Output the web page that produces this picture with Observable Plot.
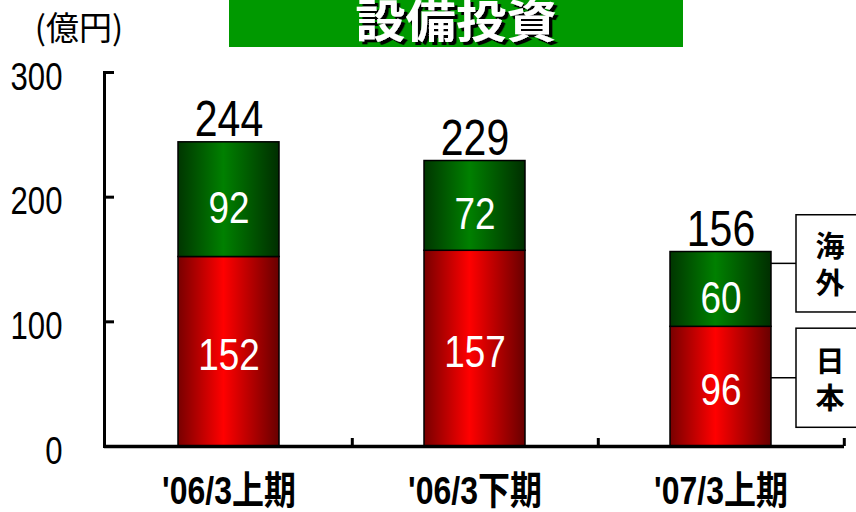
<!DOCTYPE html>
<html>
<head>
<meta charset="utf-8">
<script src="https://cdn.jsdelivr.net/npm/d3@7"></script>
<script src="https://cdn.jsdelivr.net/npm/@observablehq/plot@0.6"></script>
<style>
  html, body { margin: 0; padding: 0; background: #fff; }
  svg { display: block; }
</style>
</head>
<body>
<div id="chart"></div>
<script>
const categories = ["'06/3上期", "'06/3下期", "'07/3上期"];
const domestic = [152, 157, 96];
const overseas = [92, 72, 60];
const totals = [244, 229, 156];
const yTicks = [0, 100, 200, 300];
const seriesNames = ["海外", "日本"];
const titleText = "設備投資";
const unitText = "(億円)";

const SANS = "'Liberation Sans', Arial, 'Noto Sans CJK JP', sans-serif";
const CJK = "'Noto Sans CJK JP', sans-serif";
const CONDENSE = 0.82;

const domRows = categories.map((c, i) => ({cat: c, y1: 0, y2: domestic[i], v: domestic[i]}));
const ovsRows = categories.map((c, i) => ({cat: c, y1: domestic[i], y2: domestic[i] + overseas[i], v: overseas[i]}));
const totRows = categories.map((c, i) => ({cat: c, v: totals[i]}));

function defsMark() {
  const defs = d3.create("svg:defs");
  const mk = (id, edgeL, mid, edgeR) => {
    const g = defs.append("linearGradient").attr("id", id).attr("x1", "0").attr("x2", "1").attr("y1", "0").attr("y2", "0");
    g.append("stop").attr("offset", "0").attr("stop-color", edgeL);
    g.append("stop").attr("offset", "0.45").attr("stop-color", mid);
    g.append("stop").attr("offset", "1").attr("stop-color", edgeR);
  };
  mk("gRed", "#780000", "#ff0000", "#680000");
  mk("gGreen", "#003600", "#008000", "#002e00");
  const f = defs.append("filter").attr("id", "titleShadow").attr("x", "-10%").attr("y", "-30%").attr("width", "130%").attr("height", "160%");
  f.append("feDropShadow").attr("dx", 3).attr("dy", 3).attr("stdDeviation", 0)
    .attr("flood-color", "#000").attr("flood-opacity", 1);
  return defs.node();
}

function headerMark() {
  const g = d3.create("svg:g");
  g.append("rect").attr("x", 229).attr("y", 0).attr("width", 454).attr("height", 47).attr("fill", "#009900");
  g.append("text")
    .attr("transform", `translate(456,38) scale(1.12,1)`)
    .attr("text-anchor", "middle").attr("data-keep", "1")
    .attr("font-family", CJK).attr("font-weight", "bold").attr("font-size", 45)
    .attr("fill", "#fff").attr("filter", "url(#titleShadow)").text(titleText);
  g.append("text").attr("x", 79).attr("y", 40).attr("text-anchor", "middle").attr("data-keep", "1")
    .attr("font-family", CJK).attr("font-size", 33)
    .attr("fill", "#000").text(unitText);
  return g.node();
}

function legendMark(index, scales) {
  const g = d3.create("svg:g");
  const x = scales.x, y = scales.y;
  const last = categories[categories.length - 1];
  const barRight = x(last) + x.bandwidth();
  const boxLeft = barRight + 25;
  const boxes = [
    {name: seriesNames[0], top: 185.5, bottom: 107.5},
    {name: seriesNames[1], top: 94.5, bottom: 15}
  ];
  for (const b of boxes) {
    const yt = y(b.top), yb = y(b.bottom), ym = (yt + yb) / 2;
    g.append("line").attr("x1", barRight).attr("x2", boxLeft).attr("y1", ym).attr("y2", ym)
      .attr("stroke", "#000").attr("stroke-width", 1.5);
    g.append("rect").attr("x", boxLeft).attr("y", yt).attr("width", 90).attr("height", yb - yt)
      .attr("fill", "#fff").attr("stroke", "#000").attr("stroke-width", 1.5);
    const t = g.append("text").attr("text-anchor", "middle").attr("data-keep", "1")
      .attr("font-family", CJK).attr("font-weight", "bold").attr("font-size", 29)
      .attr("fill", "#000");
    Array.from(b.name).forEach((ch, k) => {
      t.append("tspan").attr("x", boxLeft + 34).attr("y", ym + (k === 0 ? -6 : 31)).text(ch);
    });
  }
  return g.node();
}

const plot = Plot.plot({
  width: 856,
  height: 512,
  marginLeft: 104,
  marginRight: 12,
  marginTop: 72,
  marginBottom: 66,
  style: {fontFamily: SANS, background: "#fff", overflow: "visible"},
  x: {domain: categories, paddingInner: 0.59, paddingOuter: 0.295, label: null},
  y: {domain: [0, 300], label: null},
  marks: [
    defsMark,
    headerMark,
    Plot.barY(domRows, {x: "cat", y1: "y1", y2: "y2", fill: "url(#gRed)", stroke: "#000", strokeWidth: 1.5}),
    Plot.barY(ovsRows, {x: "cat", y1: "y1", y2: "y2", fill: "url(#gGreen)", stroke: "#000", strokeWidth: 1.5}),
    Plot.text(domRows, {x: "cat", y: d => (d.y1 + d.y2) / 2, text: d => String(d.v), fill: "#fff", fontSize: 45, dy: 4, fontFamily: SANS}),
    Plot.text(ovsRows, {x: "cat", y: d => (d.y1 + d.y2) / 2, text: d => String(d.v), fill: "#fff", fontSize: 45, dy: 9, fontFamily: SANS}),
    Plot.text(totRows, {x: "cat", y: "v", text: d => String(d.v), fill: "#000", fontSize: 50, lineAnchor: "bottom", dy: -6, fontFamily: SANS}),
    Plot.axisY({ticks: yTicks, tickSize: 0, tickPadding: 42, fontSize: 38, dy: 5, label: null, fontFamily: SANS, tickFormat: d => String(d)}),
    Plot.ruleY(yTicks.slice(1), {stroke: "#000", strokeWidth: 3, insetRight: 730}),
    Plot.frame({anchor: "left", stroke: "#000", strokeWidth: 3}),
    Plot.ruleY([0], {stroke: "#000", strokeWidth: 3.5}),
    Plot.ruleX(categories, {dx: 123.3, stroke: "#000", strokeWidth: 3, insetTop: 366}),
    Plot.axisX({tickSize: 0, tickPadding: 30, fontSize: 39, fontWeight: "bold", label: null, fontFamily: SANS}),
    legendMark
  ]
});

// Condense Latin-style texts horizontally around their anchor (narrow typeface look)
d3.select(plot).selectAll("text").each(function() {
  if (this.getAttribute("data-keep")) return;
  const x = parseFloat(this.getAttribute("x") || 0);
  const y = parseFloat(this.getAttribute("y") || 0);
  const t = this.getAttribute("transform") || "";
  this.setAttribute("transform", `${t} translate(${x},${y}) scale(${CONDENSE},1) translate(${-x},${-y})`);
});

document.getElementById("chart").appendChild(plot);
</script>
</body>
</html>
